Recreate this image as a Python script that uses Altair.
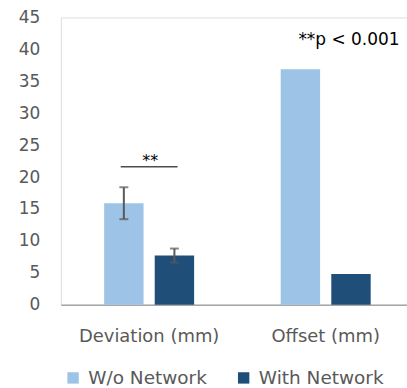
import altair as alt
import pandas as pd

# Measurements per metric and condition
categories = ["Deviation (mm)", "Offset (mm)"]
groups = ["W/o Network", "With Network"]
without_network = [15.9, 36.9]
with_network = [7.7, 4.8]
without_err = [2.5, None]
with_err = [1.1, None]
y_ticks = [0, 5, 10, 15, 20, 25, 30, 35, 40, 45]

# Significance annotation
sig_category = ["Deviation (mm)"]
sig_level = [21.6]
sig_mark = ["**"]
p_note = ["**p < 0.001"]
p_note_level = [41.4]

rows = []
for i, cat in enumerate(categories):
    rows.append({"category": cat, "group": groups[0], "value": without_network[i], "err": without_err[i]})
    rows.append({"category": cat, "group": groups[1], "value": with_network[i], "err": with_err[i]})
df = pd.DataFrame(rows)
err_df = df.dropna(subset=["err"]).copy()
err_df["lo"] = err_df["value"] - err_df["err"]
err_df["hi"] = err_df["value"] + err_df["err"]

sig_df = pd.DataFrame({"category": sig_category, "level": sig_level, "label": sig_mark})
note_df = pd.DataFrame({"category": ["Offset (mm)"], "level": p_note_level, "label": p_note})

colors = ["#9DC3E6", "#1F4E79"]
grey = "#595959"

x_axis = alt.Axis(
    title=None, ticks=False, labelAngle=0, labelFontSize=18, labelFont="DejaVu Sans",
    labelColor=grey, labelPadding=23, domainColor="#A6A6A6", domainWidth=1.5,
)
x_scale = alt.Scale(range=[0, 354], paddingInner=0, paddingOuter=0)


def x_enc():
    return alt.X("category:N", sort=categories, scale=x_scale, axis=x_axis)


xo_enc = alt.XOffset("group:N", sort=groups, scale=alt.Scale(paddingInner=0.221, paddingOuter=0.856))
y_scale = alt.Scale(domain=[0, 45], nice=False)
y_axis = alt.Axis(
    title=None, values=y_ticks, grid=False, domain=False, ticks=False,
    labelOverlap=False, labelFlush=False,
    labelFontSize=17, labelFont="DejaVu Sans", labelColor=grey, labelPadding=21,
)


def y_enc(field):
    return alt.Y(field, type="quantitative", scale=y_scale, axis=y_axis)


bars = alt.Chart(df).mark_bar().encode(
    x=x_enc(),
    xOffset=xo_enc,
    y=y_enc("value"),
    color=alt.Color(
        "group:N", sort=groups, scale=alt.Scale(domain=groups, range=colors),
        legend=alt.Legend(
            title=None, orient="none", direction="horizontal", legendX=3, legendY=352,
            symbolType="square", symbolSize=130, symbolStrokeWidth=0, labelFontSize=18.5,
            labelFont="DejaVu Sans", labelColor=grey, labelOffset=6, columnPadding=27, padding=0,
        ),
    ),
)

err_rule = alt.Chart(err_df).mark_rule(color=grey, strokeWidth=2).encode(
    x=x_enc(), xOffset=xo_enc, y=y_enc("lo"), y2="hi:Q"
)
cap_lo = alt.Chart(err_df).mark_tick(color=grey, size=9, thickness=2).encode(
    x=x_enc(), xOffset=xo_enc, y=y_enc("lo")
)
cap_hi = alt.Chart(err_df).mark_tick(color=grey, size=9, thickness=2).encode(
    x=x_enc(), xOffset=xo_enc, y=y_enc("hi")
)

bracket = alt.Chart(sig_df).mark_tick(color="black", size=57, thickness=1.5).encode(
    x=x_enc(), y=y_enc("level")
)
stars = alt.Chart(sig_df).mark_text(
    font="DejaVu Sans", fontSize=16, color="black", baseline="alphabetic", dy=-1, dx=1
).encode(x=x_enc(), y=y_enc("level"), text="label:N")

note = alt.Chart(note_df).mark_text(
    font="DejaVu Sans", fontSize=17, color="black", align="right", baseline="middle", dx=74
).encode(x=x_enc(), y=y_enc("level"), text="label:N")

chart = (
    alt.layer(bars, err_rule, cap_lo, cap_hi, bracket, stars, note)
    .properties(
        width=347, height=288,
        autosize=alt.AutoSizeParams(type="none"),
        padding={"left": 61, "top": 17, "right": 0, "bottom": 83},
    )
    .configure_view(stroke="#A6A6A6", strokeWidth=1.5)
    .configure(background="white")
)

chart.save("out.html", embed_options={"renderer": "svg", "actions": False})
